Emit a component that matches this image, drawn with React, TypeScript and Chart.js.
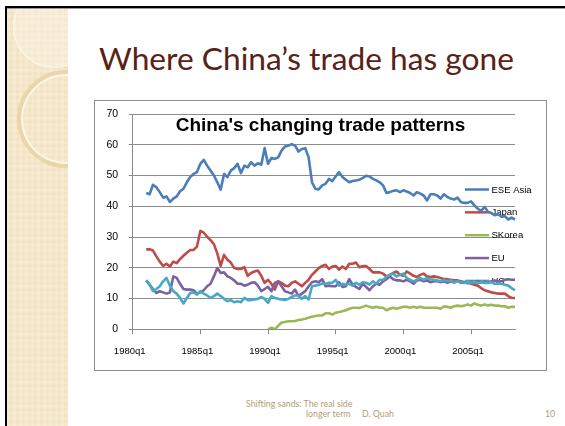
import React, { useEffect, useRef } from "react";
import { Chart, registerables } from "chart.js";

Chart.register(...registerables);

// ---------- data ----------
const firstYear = 1980;
const lastYear = 2008;
const lastQuarter = 2;

const quarterLabels: string[] = [];
for (let y = firstYear; y <= lastYear; y++) {
  for (let q = 1; q <= 4; q++) {
    if (y === lastYear && q > lastQuarter) break;
    quarterLabels.push(`${y}q${q}`);
  }
}

const xTickLabels = ["1980q1", "1985q1", "1990q1", "1995q1", "2000q1", "2005q1"];
const yTickValues = [0, 10, 20, 30, 40, 50, 60, 70];

const chartTitle = "China's changing trade patterns";
const seriesNames = ["ESE Asia", "Japan", "SKorea", "EU", "US"];
const seriesColors = ["#4a7ebb", "#be4b48", "#98b954", "#7d60a0", "#46aac5"];

const eseAsiaStart = "1981q1";
const eseAsia = [
  44.3, 43.9, 47.0, 46.2, 44.6, 42.8, 43.2, 41.4, 42.5, 43.2,
  44.9, 45.7, 47.8, 49.5, 50.5, 51.1, 53.8, 55.1, 53.2, 51.6,
  50.0, 47.8, 45.4, 50.5, 49.5, 51.6, 52.4, 53.8, 50.8, 53.2,
  52.7, 54.3, 53.2, 54.0, 53.5, 58.9, 53.8, 55.7, 55.4, 55.9,
  58.1, 59.4, 59.7, 60.2, 59.7, 57.8, 58.6, 58.9, 55.9, 47.8,
  45.7, 45.5, 46.8, 47.3, 48.9, 48.2, 49.7, 51.1, 49.5, 48.6,
  47.8, 48.2, 48.4, 48.6, 49.2, 49.9, 49.7, 48.9, 48.4, 47.8,
  46.8, 44.3, 44.6, 45.0, 45.2, 44.6, 45.2, 44.8, 44.3, 43.5,
  44.6, 44.1, 43.5, 41.9, 43.9, 43.9, 43.5, 42.5, 43.9, 43.0,
  42.5, 42.2, 42.8, 41.4, 41.1, 41.1, 41.6, 40.3, 39.2, 38.5,
  39.8, 38.2, 37.8, 37.1, 37.4, 36.6, 36.8, 35.7, 36.3, 35.7,
];

const japanStart = "1981q1";
const japan = [
  26.0, 26.0, 25.6, 23.7, 22.0, 20.6, 21.3, 20.4, 22.0, 21.5,
  22.8, 23.9, 24.9, 25.8, 25.8, 26.9, 32.0, 31.4, 30.1, 29.0,
  27.7, 24.7, 20.6, 24.2, 22.6, 21.7, 19.9, 19.6, 19.6, 20.2,
  17.4, 18.3, 18.8, 19.1, 17.4, 15.1, 16.1, 14.8, 12.9, 15.6,
  15.1, 14.2, 14.0, 15.1, 15.6, 14.8, 14.0, 15.1, 16.1, 17.7,
  18.8, 19.9, 20.6, 21.0, 19.6, 20.4, 20.6, 19.4, 20.4, 19.6,
  21.3, 21.3, 21.7, 20.2, 20.6, 20.6, 19.6, 18.5, 18.5, 18.5,
  18.1, 17.2, 17.7, 18.3, 18.8, 17.7, 17.4, 18.8, 18.1, 17.4,
  17.0, 17.7, 18.1, 17.2, 17.0, 17.2, 17.0, 16.7, 16.3, 16.3,
  16.1, 15.9, 15.9, 15.6, 15.3, 15.1, 14.8, 14.5, 14.2, 13.4,
  12.7, 12.4, 12.0, 11.8, 11.6, 11.6, 11.6, 10.8, 10.2, 10.2,
];

const skoreaStart = "1990q1";
const skorea = [
  0.0, 0.5, 0.0, 1.1, 2.2, 2.4, 2.6, 2.6, 2.7, 3.0,
  3.2, 3.4, 3.8, 4.1, 4.3, 4.5, 4.5, 5.2, 5.2, 4.8,
  5.4, 5.6, 5.9, 6.2, 6.7, 7.0, 7.0, 6.9, 7.3, 7.7,
  7.3, 7.0, 7.3, 7.0, 7.0, 6.2, 6.7, 7.0, 6.7, 7.0,
  7.3, 7.3, 7.0, 7.3, 7.0, 7.3, 7.0, 7.0, 7.0, 7.0,
  7.0, 6.7, 7.5, 7.3, 7.0, 7.5, 7.7, 7.5, 7.7, 8.1,
  7.7, 8.4, 8.0, 7.7, 8.1, 7.7, 8.0, 7.7, 7.7, 7.5,
  7.5, 7.0, 7.3, 7.3,
];

const euStart = "1981q1";
const eu = [
  15.9, 14.5, 13.1, 11.8, 12.4, 12.0, 11.6, 12.0, 17.2, 16.7,
  14.8, 13.1, 12.9, 12.9, 12.7, 11.6, 12.0, 12.7, 14.0, 14.8,
  17.2, 19.9, 18.3, 18.5, 17.2, 16.7, 15.9, 14.8, 14.8, 14.2,
  14.5, 15.1, 15.3, 14.2, 12.4, 13.1, 13.8, 12.4, 15.1, 15.6,
  14.0, 12.4, 12.0, 11.6, 12.9, 10.8, 11.6, 12.4, 14.0, 15.3,
  15.6, 15.3, 16.3, 14.0, 14.2, 14.0, 14.0, 15.3, 13.8, 14.0,
  16.3, 14.5, 13.8, 13.1, 14.8, 13.8, 12.7, 14.0, 14.8, 14.5,
  15.6, 16.3, 17.2, 16.3, 15.9, 15.9, 15.6, 16.1, 15.6, 14.8,
  15.9, 16.1, 15.6, 15.9, 15.3, 15.6, 15.6, 15.3, 15.6, 15.1,
  15.6, 15.2, 15.8, 15.1, 15.4, 15.0, 15.5, 15.3, 15.7, 15.2,
  15.5, 15.3, 15.6, 15.9, 15.6, 15.6, 16.1, 16.3, 16.1, 16.1,
];

const usStart = "1981q1";
const us = [
  15.9, 14.5, 12.4, 13.1, 14.0, 15.6, 16.7, 14.2, 12.4, 11.6,
  10.2, 8.4, 10.2, 11.8, 12.0, 11.3, 12.4, 11.6, 11.0, 10.2,
  10.8, 11.6, 10.8, 9.9, 9.1, 9.5, 8.8, 9.1, 8.8, 10.2,
  9.5, 9.5, 9.7, 9.9, 10.5, 9.9, 8.6, 10.8, 10.2, 9.9,
  9.7, 9.5, 9.9, 10.5, 11.0, 11.0, 9.9, 10.8, 9.7, 14.0,
  14.2, 14.5, 14.8, 14.8, 15.1, 15.1, 16.1, 14.2, 14.8, 14.5,
  14.8, 14.2, 15.1, 14.5, 15.3, 15.1, 14.5, 15.6, 14.8, 16.1,
  16.1, 17.0, 17.7, 18.1, 17.2, 17.7, 18.1, 16.7, 16.1, 15.6,
  16.1, 16.7, 16.1, 16.7, 16.3, 16.1, 15.9, 15.6, 16.1, 15.6,
  15.9, 15.3, 15.6, 15.3, 15.1, 15.3, 15.1, 15.3, 15.1, 15.3,
  15.1, 15.1, 15.3, 14.8, 14.8, 14.8, 14.5, 14.2, 13.4, 12.7,
];

// ---------- helpers ----------
function alignSeries(start: string, values: number[]): (number | null)[] {
  const k = quarterLabels.indexOf(start);
  return quarterLabels.map((_, i) => (i < k || i - k >= values.length ? null : values[i - k]));
}

const seriesData = [
  alignSeries(eseAsiaStart, eseAsia),
  alignSeries(japanStart, japan),
  alignSeries(skoreaStart, skorea),
  alignSeries(euStart, eu),
  alignSeries(usStart, us),
];

const FONT = '"Liberation Sans", Arial, sans-serif';

const overlayPlugin = {
  id: "overlayTitleLegend",
  beforeDatasetsDraw(chart: any) {
    const ctx = chart.ctx as CanvasRenderingContext2D;
    ctx.save();
    ctx.font = `bold 19px ${FONT}`;
    ctx.fillStyle = "#000000";
    ctx.textAlign = "center";
    ctx.textBaseline = "alphabetic";
    ctx.fillText(chartTitle, chart.width / 2, 29.5);

    ctx.font = `9.5px ${FONT}`;
    ctx.textAlign = "left";
    ctx.textBaseline = "middle";
    seriesNames.forEach((name, k) => {
      const y = 88.5 + k * 22.85;
      ctx.strokeStyle = seriesColors[k];
      ctx.lineWidth = 2.5;
      ctx.lineCap = "butt";
      ctx.beginPath();
      ctx.moveTo(370, y);
      ctx.lineTo(394, y);
      ctx.stroke();
      ctx.fillStyle = "#000000";
      ctx.fillText(name, 396.5, y + 0.5);
    });
    ctx.restore();
  },
};

function TradeChart() {
  const ref = useRef<HTMLCanvasElement | null>(null);
  useEffect(() => {
    if (!ref.current) return;
    const chart = new Chart(ref.current, {
      type: "line",
      data: {
        labels: quarterLabels,
        datasets: seriesNames.map((name, k) => ({
          label: name,
          data: seriesData[k],
          borderColor: seriesColors[k],
          backgroundColor: seriesColors[k],
          borderWidth: 2.6,
          pointRadius: 0,
          tension: 0,
          spanGaps: false,
          borderJoinStyle: "round" as const,
          order: seriesNames.length - k,
        })),
      },
      options: {
        responsive: false,
        animation: false,
        layout: { padding: { top: 13, right: 31, left: 0, bottom: 0 } },
        plugins: {
          legend: { display: false },
          title: { display: false },
          tooltip: { enabled: false },
        },
        scales: {
          x: {
            type: "category",
            offset: false,
            afterFit: (scale: any) => {
              scale.height = 40.7;
            },
            afterBuildTicks: (scale: any) => {
              scale.ticks = scale.ticks.filter((t: any) =>
                xTickLabels.includes(quarterLabels[t.value])
              );
            },
            grid: {
              drawOnChartArea: false,
              drawTicks: true,
              tickLength: 5,
              color: "#8c8c8c",
              offset: false,
            },
            border: { color: "#8c8c8c", width: 1 },
            ticks: {
              autoSkip: false,
              maxRotation: 0,
              minRotation: 0,
              padding: 11,
              labelOffset: -3,
              color: "#000000",
              font: { family: FONT, size: 9.5 },
            },
          },
          y: {
            min: 0,
            max: 70,
            afterFit: (scale: any) => {
              scale.width = 37.7;
              scale.paddingTop = 0;
              scale.paddingBottom = 0;
            },
            afterBuildTicks: (scale: any) => {
              scale.ticks = yTickValues.map((v) => ({ value: v }));
            },
            grid: {
              color: "#8c8c8c",
              lineWidth: 1,
              drawTicks: true,
              tickLength: 4,
            },
            border: { color: "#8c8c8c", width: 1 },
            ticks: {
              padding: 10.5,
              color: "#000000",
              font: { family: FONT, size: 10.5 },
            },
          },
        },
      },
      plugins: [overlayPlugin],
    });
    return () => chart.destroy();
  }, []);
  return <canvas ref={ref} width={451} height={269} style={{ display: "block" }} />;
}

const footerStyle: React.CSSProperties = {
  position: "absolute",
  fontFamily: "Lato, sans-serif",
  fontSize: 8.8,
  letterSpacing: 0,
  lineHeight: "10px",
  color: "#b29d72",
  whiteSpace: "nowrap",
};

export default function App() {
  return (
    <div
      style={{
        position: "fixed",
        left: 0,
        top: 0,
        width: 565,
        height: 426,
        background: "#ffffff",
        overflow: "hidden",
      }}
    >
      <div
        style={{
          position: "absolute",
          left: 7,
          top: 8,
          width: 61,
          height: 418,
          background: "#f2e2bf",
          backgroundImage:
            "repeating-linear-gradient(0deg, rgba(255,255,255,0.18) 0 3px, rgba(0,0,0,0) 3px 6px), repeating-linear-gradient(90deg, rgba(255,255,255,0.18) 0 3px, rgba(0,0,0,0) 3px 6px)",
          overflow: "hidden",
        }}
      >
        <div
          style={{
            position: "absolute",
            left: 6,
            top: -22,
            width: 80,
            height: 80,
            borderRadius: "50%",
            border: "1.5px solid rgba(255,250,235,0.9)",
            background: "rgba(255,255,255,0.25)",
          }}
        />
        <div
          style={{
            position: "absolute",
            left: 10,
            top: 62,
            width: 90,
            height: 90,
            borderRadius: "50%",
            border: "4px solid rgba(232,212,168,0.9)",
            boxShadow: "inset 0 0 0 2px rgba(255,250,235,0.8)",
          }}
        />
      </div>
      <div style={{ position: "absolute", left: 5, top: 6, width: 560, height: 2, background: "#000" }} />
      <div style={{ position: "absolute", left: 7, top: 8, width: 558, height: 1, background: "#9a9a9a" }} />
      <div style={{ position: "absolute", left: 5, top: 6, width: 2, height: 420, background: "#000" }} />

      <div
        style={{
          position: "absolute",
          left: 99,
          top: 40,
          fontFamily: "Lato, 'Open Sans', sans-serif",
          fontSize: 31.7,
          lineHeight: "36px",
          color: "#5a2115",
          whiteSpace: "nowrap",
        }}
      >
        Where China’s trade has gone
      </div>

      <div
        style={{
          position: "absolute",
          left: 94,
          top: 100,
          width: 453,
          height: 271,
          border: "1px solid #8e8e8e",
          boxSizing: "border-box",
          background: "#fff",
        }}
      >
        <TradeChart />
      </div>

      <div style={{ ...footerStyle, left: 246, top: 399 }}>Shifting sands: The real side</div>
      <div style={{ ...footerStyle, left: 306, top: 409 }}>longer term</div>
      <div style={{ ...footerStyle, left: 362, top: 409 }}>D. Quah</div>
      <div style={{ ...footerStyle, left: 545, top: 409 }}>10</div>
    </div>
  );
}
